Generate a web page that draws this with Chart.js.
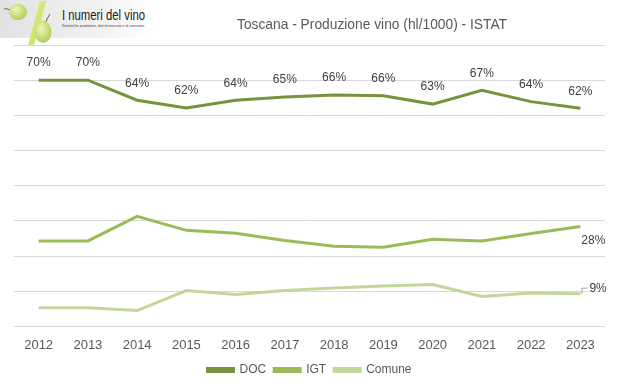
<!DOCTYPE html>
<html>
<head>
<meta charset="utf-8">
<script src="https://cdn.jsdelivr.net/npm/chart.js@4/dist/chart.umd.min.js"></script>
<style>
  html, body { margin: 0; padding: 0; background: #ffffff; }
  #wrap { position: relative; width: 619px; height: 391px; }
  #logo { position: absolute; left: 0; top: 0; }
</style>
</head>
<body>
<div id="wrap">
  <canvas id="c" width="619" height="391"></canvas>
  <svg id="logo" width="160" height="46" viewBox="0 0 160 46">
    <defs>
      <linearGradient id="bg" x1="0" y1="0" x2="1" y2="0">
        <stop offset="0" stop-color="#e2e2e2"/>
        <stop offset="0.7" stop-color="#f3f3f3"/>
        <stop offset="1" stop-color="#ffffff"/>
      </linearGradient>
      <radialGradient id="gr" cx="0.4" cy="0.35" r="0.75">
        <stop offset="0" stop-color="#eef7b8"/>
        <stop offset="1" stop-color="#a7c84a"/>
      </radialGradient>
      <linearGradient id="sl" x1="0" y1="0" x2="1" y2="1">
        <stop offset="0" stop-color="#e4f08a"/>
        <stop offset="1" stop-color="#c3dc55"/>
      </linearGradient>
    </defs>
    <rect x="0" y="0" width="150" height="38" fill="url(#bg)"/>
    <polygon points="40,1 46,1 34,45 28,45" fill="url(#sl)"/>
    <path d="M10 10 Q6 8 4 9" stroke="#7a5a30" stroke-width="1" fill="none"/>
    <ellipse cx="18" cy="12" rx="9" ry="8" fill="url(#gr)"/>
    <path d="M45 24 Q47 18 50 14" stroke="#7a5a30" stroke-width="1" fill="none"/>
    <ellipse cx="43" cy="32" rx="8.5" ry="11" fill="url(#gr)"/>
    <text x="62" y="20" font-family="Liberation Sans, sans-serif" font-size="14" fill="#1a1a1a" textLength="83" lengthAdjust="spacingAndGlyphs">I numeri del vino</text>
    <text x="62" y="27" font-family="Liberation Sans, sans-serif" font-size="4" fill="#444" textLength="83" lengthAdjust="spacingAndGlyphs">Statistiche produttive, dati di mercato e di consumo.</text>
  </svg>
</div>
<script>
const years = ['2012','2013','2014','2015','2016','2017','2018','2019','2020','2021','2022','2023'];
const docValues = [70, 70, 64.3, 62.1, 64.3, 65.2, 65.8, 65.6, 63.2, 67.1, 63.9, 62.0];
const igtValues = [24.3, 24.3, 31.3, 27.3, 26.5, 24.4, 22.8, 22.5, 24.8, 24.3, 26.4, 28.4];
const comuneValues = [5.3, 5.3, 4.5, 10.2, 9.1, 10.2, 10.9, 11.5, 11.9, 8.5, 9.5, 9.3];
const seriesNames = ['DOC', 'IGT', 'Comune'];
const titleText = 'Toscana - Produzione vino (hl/1000) - ISTAT';

const colors = ['#77933C', '#9BBB59', '#C3D69B'];

const labelPlugin = {
  id: 'labelPlugin',
  afterDatasetsDraw(chart) {
    const ctx = chart.ctx;
    ctx.save();
    ctx.font = '12px "Liberation Sans", Arial, sans-serif';
    ctx.fillStyle = '#404040';
    ctx.textAlign = 'center';
    ctx.textBaseline = 'middle';
    const m0 = chart.getDatasetMeta(0);
    m0.data.forEach((pt, i) => {
      ctx.fillText(Math.round(docValues[i]) + '%', pt.x, pt.y - 17);
    });
    const m1 = chart.getDatasetMeta(1);
    const p1 = m1.data[m1.data.length - 1];
    ctx.fillText(Math.round(igtValues[igtValues.length - 1]) + '%', p1.x + 13, p1.y + 14);
    const m2 = chart.getDatasetMeta(2);
    const p2 = m2.data[m2.data.length - 1];
    ctx.strokeStyle = '#a6a6a6';
    ctx.lineWidth = 1;
    ctx.beginPath();
    ctx.moveTo(p2.x + 1.5, p2.y);
    ctx.lineTo(p2.x + 1.5, p2.y - 5.5);
    ctx.lineTo(p2.x + 7, p2.y - 5.5);
    ctx.stroke();
    ctx.textAlign = 'left';
    ctx.fillText(Math.round(comuneValues[comuneValues.length - 1]) + '%', p2.x + 9, p2.y - 5);
    ctx.font = '15px "Liberation Sans", sans-serif';
    ctx.fillStyle = '#595959';
    ctx.textAlign = 'center';
    ctx.fillText(titleText, 372, 25, 270);
    ctx.restore();
  }
};

new Chart(document.getElementById('c'), {
  type: 'line',
  data: {
    labels: years,
    datasets: [
      { label: seriesNames[0], data: docValues, borderColor: colors[0], backgroundColor: colors[0], borderWidth: 3, pointRadius: 0, tension: 0 },
      { label: seriesNames[1], data: igtValues, borderColor: colors[1], backgroundColor: colors[1], borderWidth: 3, pointRadius: 0, tension: 0 },
      { label: seriesNames[2], data: comuneValues, borderColor: colors[2], backgroundColor: colors[2], borderWidth: 3, pointRadius: 0, tension: 0 }
    ]
  },
  options: {
    responsive: false,
    animation: false,
    layout: { padding: { left: 14, right: 14, top: 45, bottom: 5 } },
    plugins: {
      title: { display: false },
      tooltip: { enabled: false },
      legend: {
        display: true,
        position: 'bottom',
        labels: {
          boxWidth: 26,
          boxHeight: 3,
          padding: 8,
          color: '#595959',
          font: { size: 12, family: '"Liberation Sans", sans-serif' }
        }
      }
    },
    scales: {
      x: {
        offset: true,
        grid: { display: false },
        border: { display: false },
        ticks: { color: '#595959', padding: 3, font: { size: 13, family: '"Liberation Sans", sans-serif' } }
      },
      y: {
        min: 0, max: 80,
        ticks: { display: false, stepSize: 10 },
        grid: { color: '#d9d9d9', lineWidth: 1, drawTicks: false },
        border: { display: false }
      }
    }
  },
  plugins: [labelPlugin]
});
</script>
</body>
</html>
